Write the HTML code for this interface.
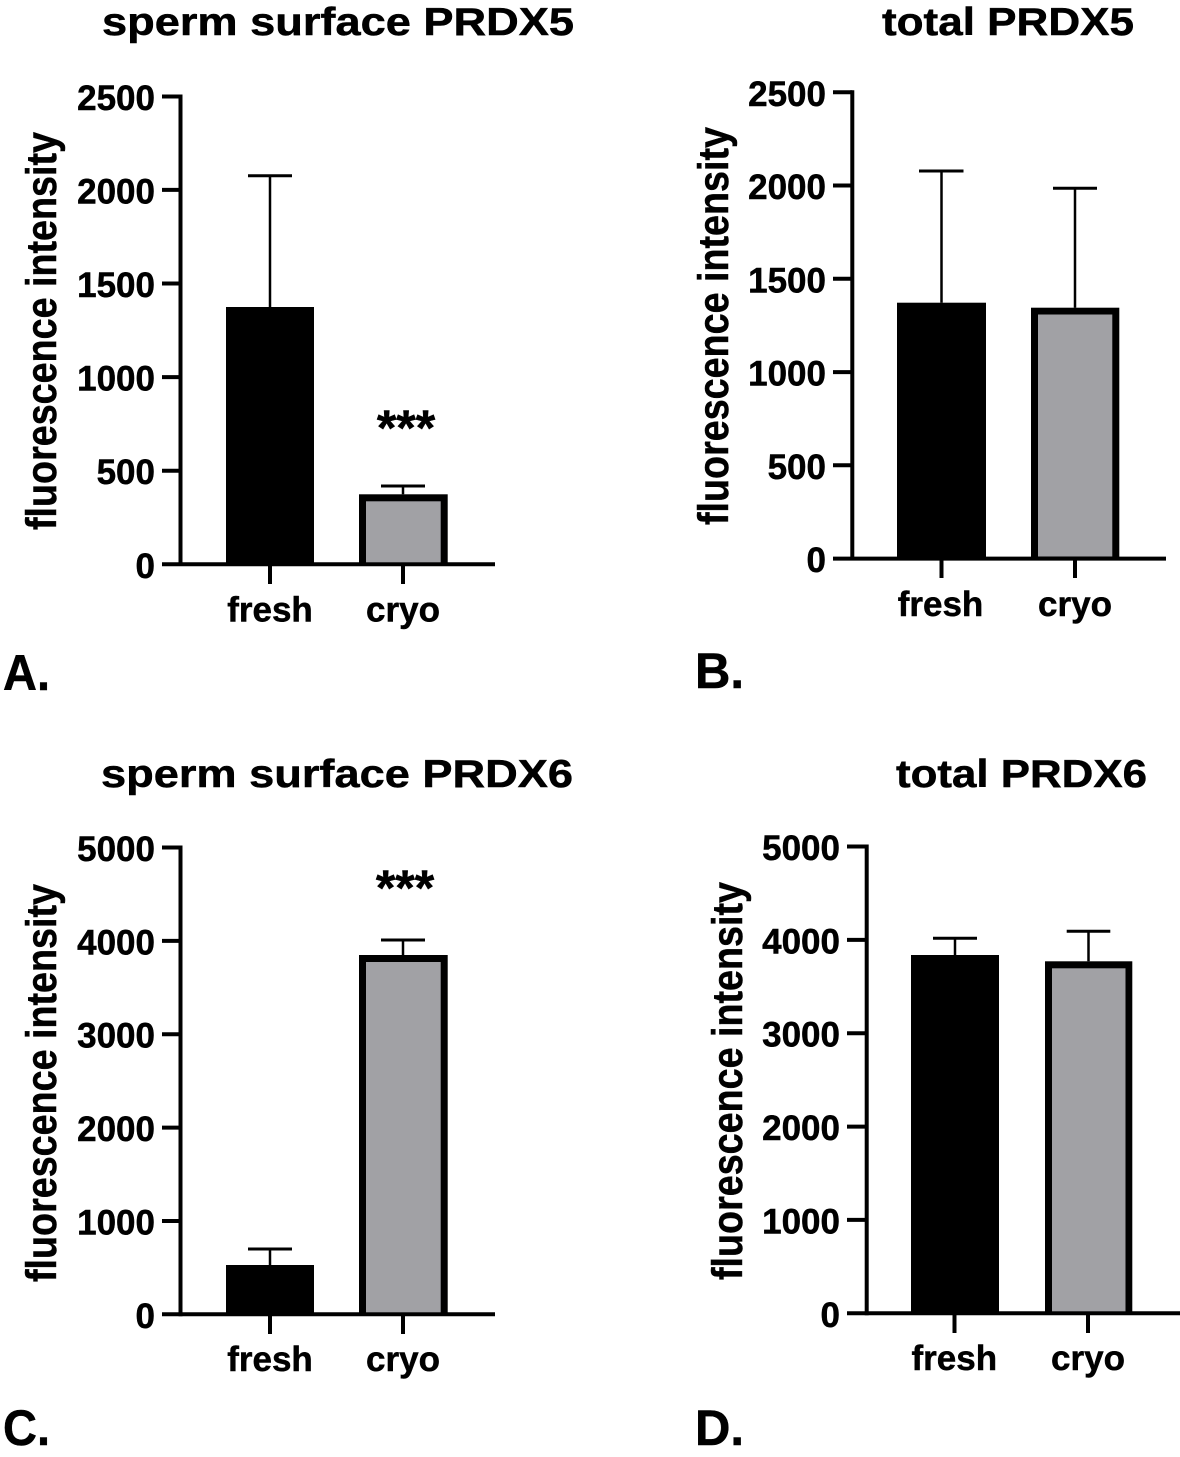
<!DOCTYPE html>
<html>
<head>
<meta charset="utf-8">
<style>
html,body{margin:0;padding:0;background:#fff;}
svg{display:block;}
text{font-family:"Liberation Sans",Arial,sans-serif;font-weight:bold;fill:#000;stroke:#000;stroke-width:0.5px;}
</style>
</head>
<body>
<svg width="1180" height="1457" viewBox="0 0 1180 1457" xmlns="http://www.w3.org/2000/svg">
<rect x="0" y="0" width="1180" height="1457" fill="#fff"/>

<!-- ===== Panel A ===== -->
<text x="102" y="35" font-size="39" textLength="472" lengthAdjust="spacingAndGlyphs">sperm surface PRDX5</text>
<text transform="translate(56,530) rotate(-90)" x="0" y="0" font-size="43" textLength="398" lengthAdjust="spacingAndGlyphs">fluorescence intensity</text>
<g font-size="35" text-anchor="end">
<text x="155" y="110">2500</text>
<text x="155" y="203.5">2000</text>
<text x="155" y="297">1500</text>
<text x="155" y="390.5">1000</text>
<text x="155" y="484">500</text>
<text x="155" y="578">0</text>
</g>
<g stroke="#000" stroke-width="4" fill="none">
<line x1="180.5" y1="94.5" x2="180.5" y2="566"/>
<line x1="162" y1="564.3" x2="495" y2="564.3"/>
<line x1="162" y1="96.5" x2="180.5" y2="96.5"/>
<line x1="162" y1="189.9" x2="180.5" y2="189.9"/>
<line x1="162" y1="283.5" x2="180.5" y2="283.5"/>
<line x1="162" y1="377.1" x2="180.5" y2="377.1"/>
<line x1="162" y1="470.7" x2="180.5" y2="470.7"/>
<line x1="270" y1="564" x2="270" y2="584"/>
<line x1="403" y1="564" x2="403" y2="584"/>
</g>
<rect x="226" y="307" width="88" height="257" fill="#000"/>
<rect x="359" y="494.3" width="88.7" height="70" fill="#000"/>
<rect x="366" y="501.3" width="74.7" height="61" fill="#a1a1a5"/>
<g stroke="#000" fill="none">
<line x1="270" y1="307" x2="270" y2="175.7" stroke-width="2.5"/>
<line x1="248" y1="175.7" x2="292" y2="175.7" stroke-width="3"/>
<line x1="403" y1="494.3" x2="403" y2="486" stroke-width="2.5"/>
<line x1="381" y1="486" x2="425" y2="486" stroke-width="3"/>
</g>
<text x="406" y="445" font-size="50" text-anchor="middle">***</text>
<g font-size="35" text-anchor="middle">
<text x="270" y="621.7">fresh</text>
<text x="403" y="621.7">cryo</text>
</g>
<text x="3" y="690" font-size="50" textLength="47" lengthAdjust="spacingAndGlyphs">A.</text>

<!-- ===== Panel B ===== -->
<text x="882" y="35" font-size="39" textLength="252" lengthAdjust="spacingAndGlyphs">total PRDX5</text>
<text transform="translate(728,525) rotate(-90)" x="0" y="0" font-size="43" textLength="398" lengthAdjust="spacingAndGlyphs">fluorescence intensity</text>
<g font-size="35" text-anchor="end">
<text x="826" y="105.8">2500</text>
<text x="826" y="199">2000</text>
<text x="826" y="292.3">1500</text>
<text x="826" y="385.6">1000</text>
<text x="826" y="478.8">500</text>
<text x="826" y="572.1">0</text>
</g>
<g stroke="#000" stroke-width="4" fill="none">
<line x1="852.3" y1="90.3" x2="852.3" y2="560.5"/>
<line x1="833" y1="558.6" x2="1166" y2="558.6"/>
<line x1="833" y1="92.3" x2="852.3" y2="92.3"/>
<line x1="833" y1="185.5" x2="852.3" y2="185.5"/>
<line x1="833" y1="278.8" x2="852.3" y2="278.8"/>
<line x1="833" y1="372.1" x2="852.3" y2="372.1"/>
<line x1="833" y1="465.3" x2="852.3" y2="465.3"/>
<line x1="941.5" y1="558" x2="941.5" y2="578"/>
<line x1="1075" y1="558" x2="1075" y2="578"/>
</g>
<rect x="897" y="302.7" width="89" height="256" fill="#000"/>
<rect x="1031" y="307.7" width="88.3" height="251" fill="#000"/>
<rect x="1038" y="314.5" width="74.3" height="242" fill="#a1a1a5"/>
<g stroke="#000" fill="none">
<line x1="941.5" y1="302.7" x2="941.5" y2="171" stroke-width="2.5"/>
<line x1="919" y1="171" x2="963.5" y2="171" stroke-width="3"/>
<line x1="1075" y1="307.7" x2="1075" y2="188.3" stroke-width="2.5"/>
<line x1="1053" y1="188.3" x2="1097" y2="188.3" stroke-width="3"/>
</g>
<g font-size="35" text-anchor="middle">
<text x="940.5" y="616">fresh</text>
<text x="1075" y="616">cryo</text>
</g>
<text x="695" y="688" font-size="50" textLength="49" lengthAdjust="spacingAndGlyphs">B.</text>

<!-- ===== Panel C ===== -->
<text x="101" y="787" font-size="39" textLength="472" lengthAdjust="spacingAndGlyphs">sperm surface PRDX6</text>
<text transform="translate(56,1282) rotate(-90)" x="0" y="0" font-size="43" textLength="398" lengthAdjust="spacingAndGlyphs">fluorescence intensity</text>
<g font-size="35" text-anchor="end">
<text x="155" y="861">5000</text>
<text x="155" y="954.4">4000</text>
<text x="155" y="1047.7">3000</text>
<text x="155" y="1141.1">2000</text>
<text x="155" y="1234.5">1000</text>
<text x="155" y="1327.8">0</text>
</g>
<g stroke="#000" stroke-width="4" fill="none">
<line x1="180.5" y1="845.5" x2="180.5" y2="1316.2"/>
<line x1="162" y1="1314.3" x2="495" y2="1314.3"/>
<line x1="162" y1="847.5" x2="180.5" y2="847.5"/>
<line x1="162" y1="940.9" x2="180.5" y2="940.9"/>
<line x1="162" y1="1034.2" x2="180.5" y2="1034.2"/>
<line x1="162" y1="1127.6" x2="180.5" y2="1127.6"/>
<line x1="162" y1="1221" x2="180.5" y2="1221"/>
<line x1="270" y1="1314" x2="270" y2="1334"/>
<line x1="403" y1="1314" x2="403" y2="1334"/>
</g>
<rect x="226" y="1265" width="88" height="49.3" fill="#000"/>
<rect x="359" y="955" width="88.7" height="359.3" fill="#000"/>
<rect x="366" y="962" width="74.7" height="350.3" fill="#a1a1a5"/>
<g stroke="#000" fill="none">
<line x1="270" y1="1265" x2="270" y2="1249" stroke-width="2.5"/>
<line x1="248" y1="1249" x2="292" y2="1249" stroke-width="3"/>
<line x1="403" y1="955" x2="403" y2="940" stroke-width="2.5"/>
<line x1="381" y1="940" x2="425" y2="940" stroke-width="3"/>
</g>
<text x="405" y="905" font-size="50" text-anchor="middle">***</text>
<g font-size="35" text-anchor="middle">
<text x="270" y="1371">fresh</text>
<text x="403" y="1371">cryo</text>
</g>
<text x="3" y="1445" font-size="50" textLength="47" lengthAdjust="spacingAndGlyphs">C.</text>

<!-- ===== Panel D ===== -->
<text x="896" y="787" font-size="39" textLength="251" lengthAdjust="spacingAndGlyphs">total PRDX6</text>
<text transform="translate(742,1280) rotate(-90)" x="0" y="0" font-size="43" textLength="398" lengthAdjust="spacingAndGlyphs">fluorescence intensity</text>
<g font-size="35" text-anchor="end">
<text x="840" y="860">5000</text>
<text x="840" y="953.4">4000</text>
<text x="840" y="1046.7">3000</text>
<text x="840" y="1140.1">2000</text>
<text x="840" y="1233.4">1000</text>
<text x="840" y="1326.8">0</text>
</g>
<g stroke="#000" stroke-width="4" fill="none">
<line x1="866.7" y1="844.5" x2="866.7" y2="1315.2"/>
<line x1="847" y1="1313.3" x2="1180" y2="1313.3"/>
<line x1="847" y1="846.5" x2="866.7" y2="846.5"/>
<line x1="847" y1="939.9" x2="866.7" y2="939.9"/>
<line x1="847" y1="1033.2" x2="866.7" y2="1033.2"/>
<line x1="847" y1="1126.6" x2="866.7" y2="1126.6"/>
<line x1="847" y1="1219.9" x2="866.7" y2="1219.9"/>
<line x1="954.5" y1="1313" x2="954.5" y2="1333"/>
<line x1="1088" y1="1313" x2="1088" y2="1333"/>
</g>
<rect x="911" y="955" width="88" height="358.3" fill="#000"/>
<rect x="1045" y="961.3" width="87.3" height="352" fill="#000"/>
<rect x="1052" y="968.3" width="73.5" height="343" fill="#a1a1a5"/>
<g stroke="#000" fill="none">
<line x1="955" y1="955" x2="955" y2="938.3" stroke-width="2.5"/>
<line x1="933" y1="938.3" x2="977" y2="938.3" stroke-width="3"/>
<line x1="1088.5" y1="961.3" x2="1088.5" y2="931.3" stroke-width="2.5"/>
<line x1="1066.7" y1="931.3" x2="1110.3" y2="931.3" stroke-width="3"/>
</g>
<g font-size="35" text-anchor="middle">
<text x="954.3" y="1370">fresh</text>
<text x="1088" y="1370">cryo</text>
</g>
<text x="695" y="1445" font-size="50" textLength="49" lengthAdjust="spacingAndGlyphs">D.</text>
</svg>
</body>
</html>
